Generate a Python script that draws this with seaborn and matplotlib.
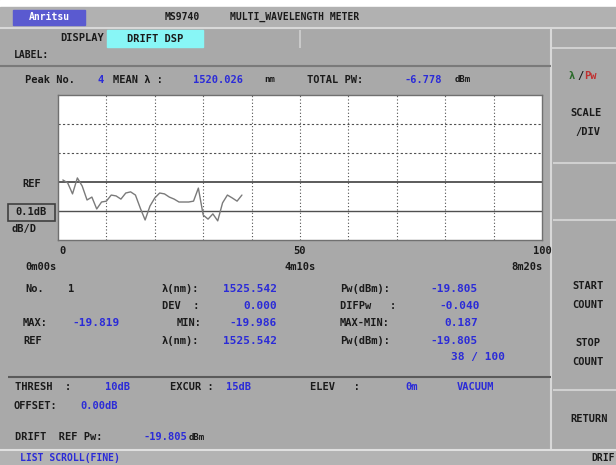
import numpy as np
import pandas as pd
import matplotlib
matplotlib.use('Agg')
import matplotlib.pyplot as plt
from matplotlib.patches import Rectangle
import seaborn as sns

# drift trace: count no. vs deviation from REF (dB)
count = list(range(1, 39))
drift_db = [0.007, -0.003, -0.041, 0.014, -0.014, -0.062, -0.052, -0.093, -0.069, -0.066,
            -0.045, -0.048, -0.059, -0.038, -0.034, -0.045, -0.090, -0.131, -0.083, -0.055,
            -0.038, -0.041, -0.052, -0.059, -0.069, -0.069, -0.069, -0.066, -0.021, -0.114,
            -0.128, -0.110, -0.134, -0.072, -0.045, -0.055, -0.066, -0.045]
x_ticks = [0, 50, 100]
x_time = ['0m00s', '4m10s', '8m20s']
scale_db = 0.1   # dB/div

gray = '#a9a9a9'
blue = '#2b2bd8'
ink = '#1a1a1a'
W, H = 616, 465

sns.set_theme(style='white')
plt.rcParams['font.family'] = ['DejaVu Sans Mono', 'DejaVu Sans']

fig = plt.figure(figsize=(W / 100, H / 100), dpi=100)
fig.patch.set_facecolor(gray)

# background panel in pixel coords
bg = fig.add_axes([0, 0, 1, 1])
bg.set_xlim(0, W)
bg.set_ylim(H, 0)
bg.axis('off')
bg.set_facecolor(gray)


def txt(x, y, s, c=ink, ha='left', size=7.5, **kw):
    bg.text(x, y, s, color=c, ha=ha, va='center', fontsize=size, fontweight='bold', **kw)


def hline(y, x0, x1, c='#606060', lw=1.2):
    bg.plot([x0, x1], [y, y], color=c, lw=lw, solid_capstyle='butt')


def vline(x, y0, y1, c='#606060', lw=1.2):
    bg.plot([x, x], [y0, y1], color=c, lw=lw, solid_capstyle='butt')


bg.add_patch(Rectangle((0, 0), W, 7, color='white'))
bg.add_patch(Rectangle((0, 7), W, 21, color='#b1b1b1'))
hline(28, 0, W, '#d8d8d8', 1.5)

# header
bg.add_patch(Rectangle((13, 10), 72, 15, color='#5a5ad0'))
txt(49, 17.5, 'Anritsu', 'white', 'center', 7)
txt(165, 17, 'MS9740', size=7)
txt(230, 17, 'MULTI_WAVELENGTH METER', size=7)

# tab row
txt(60, 38, 'DISPLAY', size=7.5)
bg.add_patch(Rectangle((107, 30), 96, 17, color='#88f6f6'))
txt(155, 38.5, 'DRIFT DSP', ha='center', size=7.5)
vline(300, 30, 48, '#d0d0d0')
vline(551, 28, H - 15, '#d8d8d8', 1.5)
hline(48, 551, W, '#d8d8d8')
txt(14, 55, 'LABEL:', size=7)
hline(66, 0, 551, '#7a7a7a', 1.5)

# peak readout
txt(25, 80, 'Peak No.')
txt(97, 80, '4', blue)
txt(113, 80, 'MEAN λ :')
txt(193, 80, '1520.026', blue)
txt(264, 80, 'nm', size=6.5)
txt(307, 80, 'TOTAL PW:')
txt(404, 80, '-6.778', blue)
txt(455, 80, 'dBm', size=6.5)

# left scale labels
txt(22, 184, 'REF')
bg.add_patch(Rectangle((8, 204), 47, 17, fill=False, ec='#404040', lw=1.2))
txt(31, 212, '0.1dB', ha='center')
txt(12, 229, 'dB/D')

# trace plot
ax = fig.add_axes([58 / W, 1 - 240 / H, (542 - 58) / W, (240 - 95) / H])
ax.set_facecolor('white')
df = pd.DataFrame({'count': count, 'drift': drift_db})
sns.lineplot(data=df, x='count', y='drift', ax=ax, color='#7a7a7a', lw=1.0)
ax.set_xlim(0, 100)
ax.set_ylim(-2 * scale_db, 3 * scale_db)
for xv in range(10, 100, 10):
    ax.axvline(xv, color='#505050', lw=0.8, ls=(0, (1, 2)), zorder=0)
for yv in [1, 2]:
    ax.axhline(yv * scale_db, color='#505050', lw=0.8, ls=(0, (2, 2)), zorder=0)
ax.axhline(0, color='#404040', lw=1.2, zorder=0)
ax.axhline(-scale_db, color='#505050', lw=1.0, zorder=0)
ax.set_xticks([])
ax.set_yticks([])
ax.set_xlabel('')
ax.set_ylabel('')
for sp in ax.spines.values():
    sp.set_color('#707070')
    sp.set_linewidth(1)

# x axis labels
for xv, tl, ha in zip(x_ticks, x_time, ['left', 'center', 'right']):
    px = 58 + xv / 100 * (542 - 58)
    txt(px + 4 if xv == 0 else px, 251, str(xv), ha='center')
    txt({'left': 25, 'center': px, 'right': 543}[ha], 267, tl, ha=ha)

# readouts
txt(25, 289, 'No.')
txt(68, 289, '1')
txt(162, 289, 'λ(nm):')
txt(277, 289, '1525.542', blue, 'right', 8)
txt(340, 289, 'Pw(dBm):')
txt(478, 289, '-19.805', blue, 'right', 8)
txt(162, 306, 'DEV  :')
txt(277, 306, '0.000', blue, 'right', 8)
txt(340, 306, 'DIFPw   :')
txt(480, 306, '-0.040', blue, 'right', 8)
txt(23, 323, 'MAX:')
txt(72, 323, '-19.819', blue, size=8)
txt(177, 323, 'MIN:')
txt(277, 323, '-19.986', blue, 'right', 8)
txt(340, 323, 'MAX-MIN:')
txt(478, 323, '0.187', blue, 'right', 8)
txt(23, 341, 'REF')
txt(162, 341, 'λ(nm):')
txt(277, 341, '1525.542', blue, 'right', 8)
txt(340, 341, 'Pw(dBm):')
txt(478, 341, '-19.805', blue, 'right', 8)
txt(505, 357, '38 / 100', blue, 'right', 8)

hline(377, 8, 551, '#5a5a5a', 1.5)
txt(15, 387, 'THRESH  :')
txt(105, 387, '10dB', blue)
txt(170, 387, 'EXCUR :')
txt(226, 387, '15dB', blue)
txt(310, 387, 'ELEV   :')
txt(405, 387, '0m', blue)
txt(457, 387, 'VACUUM', blue)
txt(13, 406, 'OFFSET:')
txt(80, 406, '0.00dB', blue)
txt(15, 437, 'DRIFT  REF Pw:')
txt(187, 437, '-19.805', blue, 'right')
txt(189, 437, 'dBm', size=6.5)

# bottom status bar
bg.add_patch(Rectangle((0, 450), W, 15, color='#b3b3b3'))
hline(450, 0, W, '#e0e0e0', 1.5)
txt(20, 458, 'LIST SCROLL(FINE)', blue, size=7)
txt(W - 1, 458, 'DRIF', ha='right', size=7)

# soft keys
bg.text(569, 76, 'λ', color='#2a6a2a', fontsize=7.5, fontweight='bold', va='center')
bg.text(577, 76, '/', color=ink, fontsize=7.5, fontweight='bold', va='center')
bg.text(584, 76, 'Pw', color='#c03030', fontsize=7.5, fontweight='bold', va='center')
txt(586, 113, 'SCALE', ha='center')
txt(588, 132, '/DIV', ha='center')
for yv in [163, 220, 390]:
    hline(yv, 553, W, '#d0d0d0', 1.5)
txt(588, 286, 'START', ha='center')
txt(588, 305, 'COUNT', ha='center')
txt(588, 343, 'STOP', ha='center')
txt(588, 362, 'COUNT', ha='center')
txt(589, 419, 'RETURN', ha='center')

fig.savefig('out.png', dpi=100, facecolor=fig.get_facecolor())
